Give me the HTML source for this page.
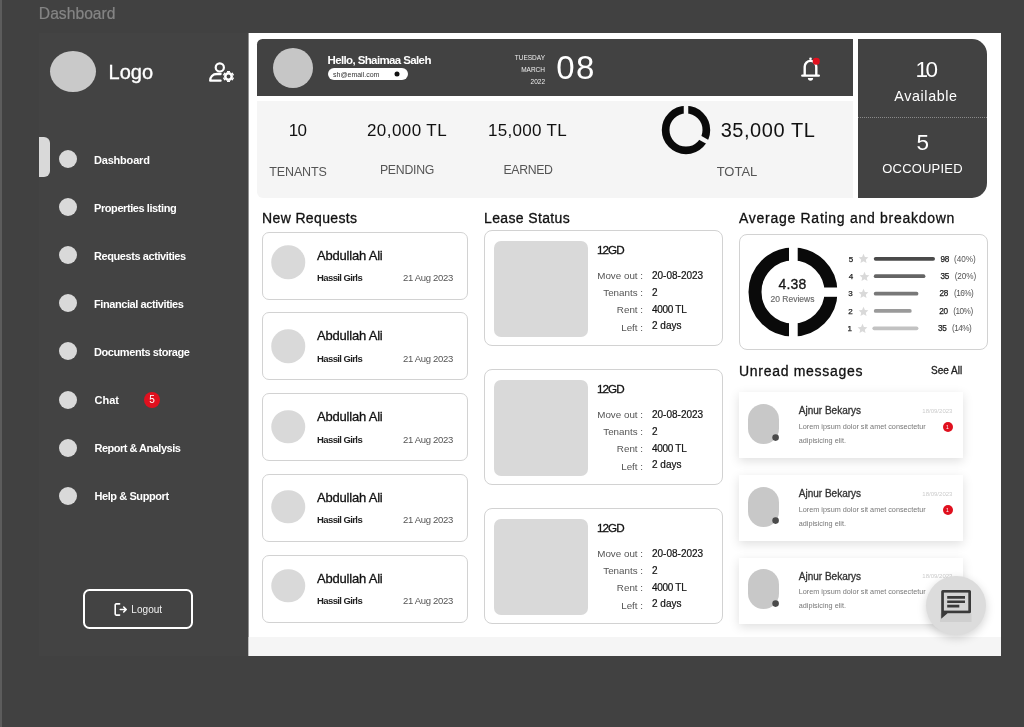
<!DOCTYPE html>
<html><head><meta charset="utf-8"><title>Dashboard</title>
<style>
*{box-sizing:border-box;margin:0;padding:0}
html,body{width:1024px;height:727px;overflow:hidden;background:#414141;font-family:"Liberation Sans",sans-serif}
.a{position:absolute;white-space:nowrap;line-height:1}
.c{transform:translate(-50%,-50%)}
.cy{transform:translateY(-50%)}
.r{transform:translate(-100%,-50%)}
#strip{left:0;top:0;width:2px;height:727px;background:#5c5c5c}
#side{left:39px;top:33px;width:210px;height:623px;background:#434343}
#main{left:249px;top:33px;width:752px;height:623px;background:#fff;box-shadow:-1px 0 0 rgba(255,255,255,.42)}
#foot{left:249px;top:637px;width:752px;height:19px;background:#f5f5f5;box-shadow:-1px 0 0 rgba(245,245,245,.42)}
.dot{width:18px;height:18px;border-radius:50%;background:#d9d9d9}
.nav{color:#fff;font-weight:bold;font-size:11px;left:94px;letter-spacing:-.42px}
.hd{background:#424242}
.card{border:1px solid #d2d2d2;border-radius:7px;background:#fff}
.t14{font-size:14px;color:#111;font-weight:normal;letter-spacing:.2px}
</style></head><body>
<div class="a" id="strip"></div>
<div class="a cy" style="left:38.8px;top:14px;font-size:15.7px;color:#858585;-webkit-text-stroke:.2px #858585">Dashboard</div>
<div class="a" id="side"></div>
<div class="a" id="main"></div>
<div class="a" id="foot"></div>

<!-- SIDEBAR -->
<div class="a" style="left:49.6px;top:50.8px;width:46.4px;height:41.3px;border-radius:50%;background:#c9c9c9"></div>
<div class="a cy" style="left:108.6px;top:72.2px;font-size:20px;color:#fff;-webkit-text-stroke:.35px #fff">Logo</div>
<svg class="a" style="left:200px;top:54px" width="44" height="36" viewBox="0 0 44 36" fill="none" stroke="#fff" stroke-width="2.2"><circle cx="19.8" cy="13.4" r="4.1"/><path d="M20.6 20H17C12.500 20 10.200 23 10.200 26.700H20.600" stroke-width="2.3" stroke-linecap="round" stroke-linejoin="round"/><circle cx="28.5" cy="22.500" r="3.2" stroke-width="2.500"/><path d="M28.50 18.30L28.50 16.90M32.14 20.40L33.35 19.70M32.14 24.60L33.35 25.30M28.50 26.70L28.50 28.10M24.86 24.60L23.65 25.30M24.86 20.40L23.65 19.70" stroke-width="3"/></svg>

<div class="a" style="left:39px;top:137px;width:11px;height:40px;border-radius:0 6px 6px 0;background:#d9d9d9"></div>
<div class="a dot c" style="left:68.2px;top:159.25px"></div><div class="a nav cy" style="top:159.5px;letter-spacing:-.2px">Dashboard</div>
<div class="a dot c" style="left:68.2px;top:207.3px"></div><div class="a nav cy" style="top:207.5px">Properties listing</div>
<div class="a dot c" style="left:68.2px;top:255.35px"></div><div class="a nav cy" style="top:255.5px">Requests activities</div>
<div class="a dot c" style="left:68.2px;top:303.4px"></div><div class="a nav cy" style="top:303.5px">Financial activities</div>
<div class="a dot c" style="left:68.2px;top:351.45px"></div><div class="a nav cy" style="top:351.7px">Documents storage</div>
<div class="a dot c" style="left:68.2px;top:399.5px"></div><div class="a nav cy" style="top:400px;left:94.5px;letter-spacing:0">Chat</div>
<div class="a c" style="left:152px;top:400px;width:16px;height:16px;border-radius:50%;background:#e0101e"></div>
<div class="a c" style="left:152px;top:400px;font-size:10px;color:#fff">5</div>
<div class="a dot c" style="left:68.2px;top:447.55px"></div><div class="a nav cy" style="top:448.3px;left:94.5px;letter-spacing:-.5px">Report &amp; Analysis</div>
<div class="a dot c" style="left:68.2px;top:495.6px"></div><div class="a nav cy" style="top:496.2px;left:94.5px">Help &amp; Support</div>

<div class="a" style="left:83px;top:589px;width:110px;height:40px;border:2px solid #fff;border-radius:6.5px"></div>
<svg class="a" style="left:113px;top:601.600px" width="15" height="15" viewBox="0 0 15 15" fill="none" stroke="#fff" stroke-width="1.600" stroke-linecap="round" stroke-linejoin="round"><path d="M6.600 1.900H3.200a1 1 0 0 0-1 1v9.200a1 1 0 0 0 1 1h3.400"/><path d="M7.300 7.500h5.700M10.700 5l2.500 2.500-2.500 2.500"/></svg>
<div class="a cy" style="left:131.3px;top:610px;font-size:10px;color:#f0f0f0;letter-spacing:.05px">Logout</div>

<!-- HEADER -->
<div class="a hd" style="left:257px;top:39px;width:595.5px;height:57px;border-radius:5.5px 0 0 0"></div>
<div class="a c" style="left:293px;top:67.5px;width:40px;height:40px;border-radius:50%;background:#c6c6c6"></div>
<div class="a cy" style="left:327.5px;top:60.6px;font-size:11.5px;font-weight:bold;color:#fff;letter-spacing:-.62px">Hello, Shaimaa Saleh</div>
<div class="a" style="left:327.5px;top:68px;width:80px;height:12px;border-radius:6px;background:#fff"></div>
<div class="a cy" style="left:333px;top:74px;font-size:7px;color:#333">sh@email.com</div>
<div class="a c" style="left:397px;top:74px;width:5px;height:5px;border-radius:50%;background:#111"></div>
<div class="a r" style="left:545px;top:57.6px;font-size:6.5px;color:#eee">TUESDAY</div>
<div class="a r" style="left:545px;top:70px;font-size:6.5px;color:#eee">MARCH</div>
<div class="a r" style="left:545px;top:82px;font-size:6.5px;color:#eee">2022</div>
<div class="a cy" style="left:556.3px;top:67px;font-size:33px;color:#fff;letter-spacing:1.4px">08</div>
<svg class="a" style="left:800px;top:56px" width="22" height="26" viewBox="0 0 22 26" fill="none" stroke="#fff" stroke-width="2.4"><path d="M4.700 19.500V10.700a5.800 5.800 0 0 1 11.600 0v8.800"/><path d="M2.300 19.600H18.800" stroke-linecap="round"/><circle cx="10.500" cy="2.800" r="1.300" fill="#fff" stroke="none"/><path d="M7.900 22.100a2.600 2.600 0 0 0 5.200 0z" fill="#fff" stroke="none"/></svg>
<div class="a c" style="left:816px;top:61px;width:6.5px;height:6.5px;border-radius:50%;background:#e0101e"></div>

<!-- STATS -->
<div class="a" style="left:257px;top:101px;width:595.5px;height:96.5px;border-radius:0 0 0 6px;background:#f5f5f5"></div>
<div class="a c" style="left:297.5px;top:130px;font-size:17px;color:#111;letter-spacing:-.6px">10</div>
<div class="a c" style="left:298px;top:171.7px;font-size:12.5px;color:#555;letter-spacing:-.15px">TENANTS</div>
<div class="a c" style="left:407px;top:130px;font-size:17px;color:#111;letter-spacing:.42px">20,000 TL</div>
<div class="a c" style="left:407px;top:169.5px;font-size:12.3px;color:#555;letter-spacing:-.26px">PENDING</div>
<div class="a c" style="left:527.5px;top:130px;font-size:17px;color:#111;letter-spacing:.3px">15,000 TL</div>
<div class="a c" style="left:528px;top:169.5px;font-size:12.3px;color:#555;letter-spacing:-.35px">EARNED</div>
<svg class="a" style="left:660.15px;top:104px" width="52" height="52" viewBox="-26 -26 52 52"><circle r="20.35" fill="none" stroke="#0a0a0a" stroke-width="7.7"/><rect x="-2.25" y="-26" width="4.5" height="13" fill="#f5f5f5"/><rect x="-2.25" y="-26" width="4.5" height="13" fill="#f5f5f5" transform="rotate(119)"/></svg>
<div class="a c" style="left:768px;top:130px;font-size:20px;color:#111;letter-spacing:.55px">35,000 TL</div>
<div class="a c" style="left:737px;top:171px;font-size:13px;color:#555">TOTAL</div>

<!-- RIGHT DARK PANEL -->
<div class="a hd" style="left:858px;top:39px;width:128.8px;height:158.5px;border-radius:0 15px 15px 0"></div>
<div class="a" style="left:858px;top:116.5px;width:128.8px;height:0;border-top:1px dotted #8a8a8a"></div>
<div class="a c" style="left:925.6px;top:70.3px;font-size:22.5px;color:#fff;letter-spacing:-2.4px">10</div>
<div class="a c" style="left:926px;top:96px;font-size:14.3px;color:#fff;letter-spacing:.62px">Available</div>
<div class="a c" style="left:922.7px;top:142.8px;font-size:22.5px;color:#fff">5</div>
<div class="a c" style="left:922.5px;top:168px;font-size:13px;color:#fff;letter-spacing:.2px">OCCOUPIED</div>

<!--SECTIONS-->
<div class="a cy t14" style="left:262px;top:218.3px;letter-spacing:.37px;-webkit-text-stroke:.3px currentColor;">New Requests</div>
<div class="a cy t14" style="left:484px;top:218.3px;letter-spacing:.36px;-webkit-text-stroke:.3px currentColor;">Lease Status</div>
<div class="a cy t14" style="left:739px;top:218.3px;letter-spacing:.72px;-webkit-text-stroke:.3px currentColor;">Average Rating and breakdown</div>
<div class="a cy t14" style="left:739px;top:371.3px;letter-spacing:.7px;-webkit-text-stroke:.3px currentColor;">Unread messages</div>
<div class="a cy" style="left:931px;top:370.5px;font-size:10px;color:#222;-webkit-text-stroke:.3px currentColor;">See All</div>
<div class="a card" style="left:261.5px;top:231.5px;width:206px;height:68px"></div>
<div class="a c" style="left:288px;top:262.4px;width:33.5px;height:33.5px;border-radius:50%;background:#d9d9d9"></div>
<div class="a cy" style="left:317px;top:254.5px;font-size:13px;color:#111;letter-spacing:-.2px;-webkit-text-stroke:.3px currentColor;">Abdullah Ali</div>
<div class="a cy" style="left:317px;top:278.2px;font-size:9.5px;font-weight:bold;color:#222;letter-spacing:-.6px">Hassil Girls</div>
<div class="a cy" style="left:403px;top:278.1px;font-size:9.5px;color:#555;letter-spacing:-.32px">21 Aug 2023</div>
<div class="a card" style="left:261.5px;top:312.25px;width:206px;height:68px"></div>
<div class="a c" style="left:288px;top:346.3px;width:33.5px;height:33.5px;border-radius:50%;background:#d9d9d9"></div>
<div class="a cy" style="left:317px;top:335.25px;font-size:13px;color:#111;letter-spacing:-.2px;-webkit-text-stroke:.3px currentColor;">Abdullah Ali</div>
<div class="a cy" style="left:317px;top:358.95px;font-size:9.5px;font-weight:bold;color:#222;letter-spacing:-.6px">Hassil Girls</div>
<div class="a cy" style="left:403px;top:358.85px;font-size:9.5px;color:#555;letter-spacing:-.32px">21 Aug 2023</div>
<div class="a card" style="left:261.5px;top:393.0px;width:206px;height:68px"></div>
<div class="a c" style="left:288px;top:426.6px;width:33.5px;height:33.5px;border-radius:50%;background:#d9d9d9"></div>
<div class="a cy" style="left:317px;top:416.0px;font-size:13px;color:#111;letter-spacing:-.2px;-webkit-text-stroke:.3px currentColor;">Abdullah Ali</div>
<div class="a cy" style="left:317px;top:439.7px;font-size:9.5px;font-weight:bold;color:#222;letter-spacing:-.6px">Hassil Girls</div>
<div class="a cy" style="left:403px;top:439.6px;font-size:9.5px;color:#555;letter-spacing:-.32px">21 Aug 2023</div>
<div class="a card" style="left:261.5px;top:473.75px;width:206px;height:68px"></div>
<div class="a c" style="left:288px;top:506.5px;width:33.5px;height:33.5px;border-radius:50%;background:#d9d9d9"></div>
<div class="a cy" style="left:317px;top:496.75px;font-size:13px;color:#111;letter-spacing:-.2px;-webkit-text-stroke:.3px currentColor;">Abdullah Ali</div>
<div class="a cy" style="left:317px;top:520.45px;font-size:9.5px;font-weight:bold;color:#222;letter-spacing:-.6px">Hassil Girls</div>
<div class="a cy" style="left:403px;top:520.35px;font-size:9.5px;color:#555;letter-spacing:-.32px">21 Aug 2023</div>
<div class="a card" style="left:261.5px;top:554.5px;width:206px;height:68px"></div>
<div class="a c" style="left:288px;top:585.6px;width:33.5px;height:33.5px;border-radius:50%;background:#d9d9d9"></div>
<div class="a cy" style="left:317px;top:577.5px;font-size:13px;color:#111;letter-spacing:-.2px;-webkit-text-stroke:.3px currentColor;">Abdullah Ali</div>
<div class="a cy" style="left:317px;top:601.2px;font-size:9.5px;font-weight:bold;color:#222;letter-spacing:-.6px">Hassil Girls</div>
<div class="a cy" style="left:403px;top:601.1px;font-size:9.5px;color:#555;letter-spacing:-.32px">21 Aug 2023</div>
<div class="a card" style="left:483.5px;top:230px;width:239.5px;height:116px;border-radius:8px"></div>
<div class="a" style="left:494px;top:241.3px;width:93.5px;height:96px;border-radius:7px;background:#d9d9d9"></div>
<div class="a cy" style="left:597px;top:250.3px;font-size:11.7px;color:#111;letter-spacing:-.95px;-webkit-text-stroke:.3px currentColor;">12GD</div>
<div class="a r" style="left:643px;top:275.5px;font-size:9.8px;color:#555">Move out :</div>
<div class="a cy" style="left:652px;top:275.6px;font-size:10px;color:#111;letter-spacing:0;-webkit-text-stroke:.2px #111">20-08-2023</div>
<div class="a r" style="left:643px;top:293px;font-size:9.8px;color:#555">Tenants :</div>
<div class="a cy" style="left:652px;top:292.6px;font-size:10px;color:#111;letter-spacing:0;-webkit-text-stroke:.2px #111">2</div>
<div class="a r" style="left:643px;top:310px;font-size:9.8px;color:#555">Rent :</div>
<div class="a cy" style="left:652px;top:310px;font-size:10px;color:#111;letter-spacing:-.3px;-webkit-text-stroke:.2px #111">4000 TL</div>
<div class="a r" style="left:643px;top:327.5px;font-size:9.8px;color:#555">Left :</div>
<div class="a cy" style="left:652px;top:325.9px;font-size:10px;color:#111;letter-spacing:0;-webkit-text-stroke:.2px #111">2 days</div>
<div class="a card" style="left:483.5px;top:369px;width:239.5px;height:116px;border-radius:8px"></div>
<div class="a" style="left:494px;top:380.3px;width:93.5px;height:96px;border-radius:7px;background:#d9d9d9"></div>
<div class="a cy" style="left:597px;top:389.3px;font-size:11.7px;color:#111;letter-spacing:-.95px;-webkit-text-stroke:.3px currentColor;">12GD</div>
<div class="a r" style="left:643px;top:414.5px;font-size:9.8px;color:#555">Move out :</div>
<div class="a cy" style="left:652px;top:414.6px;font-size:10px;color:#111;letter-spacing:0;-webkit-text-stroke:.2px #111">20-08-2023</div>
<div class="a r" style="left:643px;top:432px;font-size:9.8px;color:#555">Tenants :</div>
<div class="a cy" style="left:652px;top:431.6px;font-size:10px;color:#111;letter-spacing:0;-webkit-text-stroke:.2px #111">2</div>
<div class="a r" style="left:643px;top:449px;font-size:9.8px;color:#555">Rent :</div>
<div class="a cy" style="left:652px;top:449px;font-size:10px;color:#111;letter-spacing:-.3px;-webkit-text-stroke:.2px #111">4000 TL</div>
<div class="a r" style="left:643px;top:466.5px;font-size:9.8px;color:#555">Left :</div>
<div class="a cy" style="left:652px;top:464.9px;font-size:10px;color:#111;letter-spacing:0;-webkit-text-stroke:.2px #111">2 days</div>
<div class="a card" style="left:483.5px;top:508px;width:239.5px;height:116px;border-radius:8px"></div>
<div class="a" style="left:494px;top:519.3px;width:93.5px;height:96px;border-radius:7px;background:#d9d9d9"></div>
<div class="a cy" style="left:597px;top:528.3px;font-size:11.7px;color:#111;letter-spacing:-.95px;-webkit-text-stroke:.3px currentColor;">12GD</div>
<div class="a r" style="left:643px;top:553.5px;font-size:9.8px;color:#555">Move out :</div>
<div class="a cy" style="left:652px;top:553.6px;font-size:10px;color:#111;letter-spacing:0;-webkit-text-stroke:.2px #111">20-08-2023</div>
<div class="a r" style="left:643px;top:571px;font-size:9.8px;color:#555">Tenants :</div>
<div class="a cy" style="left:652px;top:570.6px;font-size:10px;color:#111;letter-spacing:0;-webkit-text-stroke:.2px #111">2</div>
<div class="a r" style="left:643px;top:588px;font-size:9.8px;color:#555">Rent :</div>
<div class="a cy" style="left:652px;top:588px;font-size:10px;color:#111;letter-spacing:-.3px;-webkit-text-stroke:.2px #111">4000 TL</div>
<div class="a r" style="left:643px;top:605.5px;font-size:9.8px;color:#555">Left :</div>
<div class="a cy" style="left:652px;top:603.9px;font-size:10px;color:#111;letter-spacing:0;-webkit-text-stroke:.2px #111">2 days</div>
<div class="a card" style="left:739px;top:234px;width:248.5px;height:115.5px;border-radius:8px"></div>
<svg class="a" style="left:742.6px;top:241.8px" width="100" height="100" viewBox="-50 -50 100 100"><circle r="38" fill="none" stroke="#0a0a0a" stroke-width="13"/><rect x="-4" y="-48" width="8.7" height="96" fill="#fff"/><rect x="0" y="-4.500" width="48" height="9.300" fill="#fff"/></svg>
<div class="a c" style="left:792.5px;top:283.7px;font-size:14px;color:#161616;letter-spacing:.2px;-webkit-text-stroke:.3px #161616">4.38</div>
<div class="a c" style="left:792.5px;top:299.3px;font-size:8.5px;color:#6a6a6a;-webkit-text-stroke:.15px #6a6a6a">20 Reviews</div>
<div class="a c" style="left:851px;top:259.5px;font-size:8px;color:#222;-webkit-text-stroke:.25px #222">5</div>
<svg class="a" style="left:858.4px;top:253.4px" width="11" height="11" viewBox="0 0 24 24"><path fill="#d9d9d9" d="M12 1.800l3.100 6.900 7.500.8-5.600 5 1.600 7.400L12 18.100l-6.600 3.800L7 14.500l-5.600-5 7.500-.8z"/></svg>
<div class="a r" style="left:949.1px;top:259.5px;font-size:8.200px;color:#222;letter-spacing:-.3px;-webkit-text-stroke:.25px #222">98</div>
<div class="a cy" style="left:954.0px;top:259.5px;font-size:8.200px;color:#555;letter-spacing:-0.02px">(40%)</div>
<div class="a c" style="left:851px;top:276.9px;font-size:8px;color:#222;-webkit-text-stroke:.25px #222">4</div>
<svg class="a" style="left:859.0px;top:270.8px" width="11" height="11" viewBox="0 0 24 24"><path fill="#d9d9d9" d="M12 1.800l3.100 6.900 7.500.8-5.600 5 1.600 7.400L12 18.100l-6.600 3.800L7 14.500l-5.600-5 7.500-.8z"/></svg>
<div class="a r" style="left:949.1px;top:276.9px;font-size:8.200px;color:#222;letter-spacing:-.3px;-webkit-text-stroke:.25px #222">35</div>
<div class="a cy" style="left:954.7px;top:276.9px;font-size:8.200px;color:#555;letter-spacing:-0.1px">(20%)</div>
<div class="a c" style="left:850.6px;top:294.4px;font-size:8px;color:#222;-webkit-text-stroke:.25px #222">3</div>
<svg class="a" style="left:858.2px;top:288.3px" width="11" height="11" viewBox="0 0 24 24"><path fill="#d9d9d9" d="M12 1.800l3.100 6.900 7.500.8-5.600 5 1.600 7.400L12 18.100l-6.600 3.800L7 14.500l-5.600-5 7.500-.8z"/></svg>
<div class="a r" style="left:948.1px;top:294.4px;font-size:8.200px;color:#222;letter-spacing:-.3px;-webkit-text-stroke:.25px #222">28</div>
<div class="a cy" style="left:954.0px;top:294.4px;font-size:8.200px;color:#555;letter-spacing:-0.5px">(16%)</div>
<div class="a c" style="left:850.5px;top:311.59999999999997px;font-size:8px;color:#222;-webkit-text-stroke:.25px #222">2</div>
<svg class="a" style="left:857.6px;top:305.5px" width="11" height="11" viewBox="0 0 24 24"><path fill="#d9d9d9" d="M12 1.800l3.100 6.900 7.500.8-5.600 5 1.600 7.400L12 18.100l-6.600 3.800L7 14.500l-5.600-5 7.500-.8z"/></svg>
<div class="a r" style="left:947.7px;top:311.59999999999997px;font-size:8.200px;color:#222;letter-spacing:-.3px;-webkit-text-stroke:.25px #222">20</div>
<div class="a cy" style="left:953.2px;top:311.59999999999997px;font-size:8.200px;color:#555;letter-spacing:-0.48px">(10%)</div>
<div class="a c" style="left:849.8px;top:329.0px;font-size:8px;color:#222;-webkit-text-stroke:.25px #222">1</div>
<svg class="a" style="left:856.5px;top:322.9px" width="11" height="11" viewBox="0 0 24 24"><path fill="#d9d9d9" d="M12 1.800l3.100 6.900 7.500.8-5.600 5 1.600 7.400L12 18.100l-6.600 3.800L7 14.500l-5.600-5 7.500-.8z"/></svg>
<div class="a r" style="left:946.6px;top:329.0px;font-size:8.200px;color:#222;letter-spacing:-.3px;-webkit-text-stroke:.25px #222">35</div>
<div class="a cy" style="left:952px;top:329.0px;font-size:8.200px;color:#555;letter-spacing:-0.52px">(14%)</div>
<svg class="a" style="left:870px;top:250px" width="70" height="90" viewBox="0 0 70 90" fill="none" stroke-width="3.700" stroke-linecap="round"><path d="M5.65 8.80H63.15" stroke="#4a4a4a"/><path d="M5.65 26.20H53.55" stroke="#646464"/><path d="M5.65 43.70H46.55" stroke="#787878"/><path d="M5.65 60.90H39.85" stroke="#9a9a9a"/><path d="M4.25 78.30H46.55" stroke="#c2c2c2"/></svg>
<div class="a" style="left:739px;top:392.3px;width:224px;height:66.2px;background:#fff;box-shadow:0 3px 10px rgba(0,0,0,.13)"></div>
<div class="a" style="left:747.5px;top:403.8px;width:31.7px;height:40.2px;border-radius:15.8px;background:#c8c8c8"></div>
<svg class="a" style="left:770px;top:432.3px" width="12" height="12" viewBox="0 0 12 12"><circle cx="5.600" cy="5.600" r="3.300" fill="#4a4a4a"/></svg>
<div class="a cy" style="left:798.8px;top:411.1px;font-size:10px;color:#333;-webkit-text-stroke:.3px #333">Ajnur Bekarys</div>
<div class="a r" style="left:952.4px;top:410.8px;font-size:6px;color:#ccc">18/09/2023</div>
<div class="a cy" style="left:798.8px;top:427.0px;font-size:7.250px;color:#777">Lorem ipsum dolor sit amet consectetur</div>
<div class="a cy" style="left:798.8px;top:440.8px;font-size:7.250px;color:#777">adipisicing elit.</div>
<div class="a c" style="left:947.5px;top:427.0px;width:10px;height:10px;border-radius:50%;background:#e0101e"></div>
<div class="a c" style="left:947.5px;top:427.0px;font-size:5px;color:#fff">1</div>
<div class="a" style="left:739px;top:475.0px;width:224px;height:66.2px;background:#fff;box-shadow:0 3px 10px rgba(0,0,0,.13)"></div>
<div class="a" style="left:747.5px;top:486.5px;width:31.7px;height:40.2px;border-radius:15.8px;background:#c8c8c8"></div>
<svg class="a" style="left:770px;top:515.0px" width="12" height="12" viewBox="0 0 12 12"><circle cx="5.600" cy="5.600" r="3.300" fill="#4a4a4a"/></svg>
<div class="a cy" style="left:798.8px;top:493.8px;font-size:10px;color:#333;-webkit-text-stroke:.3px #333">Ajnur Bekarys</div>
<div class="a r" style="left:952.4px;top:493.5px;font-size:6px;color:#ccc">18/09/2023</div>
<div class="a cy" style="left:798.8px;top:509.7px;font-size:7.250px;color:#777">Lorem ipsum dolor sit amet consectetur</div>
<div class="a cy" style="left:798.8px;top:523.5px;font-size:7.250px;color:#777">adipisicing elit.</div>
<div class="a c" style="left:947.5px;top:509.7px;width:10px;height:10px;border-radius:50%;background:#e0101e"></div>
<div class="a c" style="left:947.5px;top:509.7px;font-size:5px;color:#fff">1</div>
<div class="a" style="left:739px;top:557.7px;width:224px;height:66.2px;background:#fff;box-shadow:0 3px 10px rgba(0,0,0,.13)"></div>
<div class="a" style="left:747.5px;top:569.2px;width:31.7px;height:40.2px;border-radius:15.8px;background:#c8c8c8"></div>
<svg class="a" style="left:770px;top:597.7px" width="12" height="12" viewBox="0 0 12 12"><circle cx="5.600" cy="5.600" r="3.300" fill="#4a4a4a"/></svg>
<div class="a cy" style="left:798.8px;top:576.5px;font-size:10px;color:#333;-webkit-text-stroke:.3px #333">Ajnur Bekarys</div>
<div class="a r" style="left:952.4px;top:576.2px;font-size:6px;color:#ccc">18/09/2023</div>
<div class="a cy" style="left:798.8px;top:592.4000000000001px;font-size:7.250px;color:#777">Lorem ipsum dolor sit amet consectetur</div>
<div class="a cy" style="left:798.8px;top:606.2px;font-size:7.250px;color:#777">adipisicing elit.</div>
<div class="a" style="left:926.3px;top:575.5px;width:59.6px;height:59.6px;border-radius:50%;background:#dcdcdc;box-shadow:0 3px 10px rgba(0,0,0,.18)"></div>
<svg class="a" style="left:936px;top:585px" width="40" height="40" viewBox="0 0 40 40"><rect x="4" y="28.5" width="31.500" height="8.500" fill="#000" opacity=".055"/><path fill="#3a3a3a" d="M6.700 4.900H33.500a1.500 1.500 0 0 1 1.500 1.500V26.800a1.500 1.500 0 0 1-1.500 1.500H11.600L5.200 33.700V6.400a1.500 1.500 0 0 1 1.500-1.500z"/><rect x="7.900" y="7.600" width="24.400" height="18" fill="#d4d4d4"/><path fill="#3a3a3a" d="M11.200 11h17.800v2.700H11.200zM11.200 15.400h17.800v2.700H11.200zM11.200 19.800h12.100v2.700H11.200z"/></svg>
</body></html>
